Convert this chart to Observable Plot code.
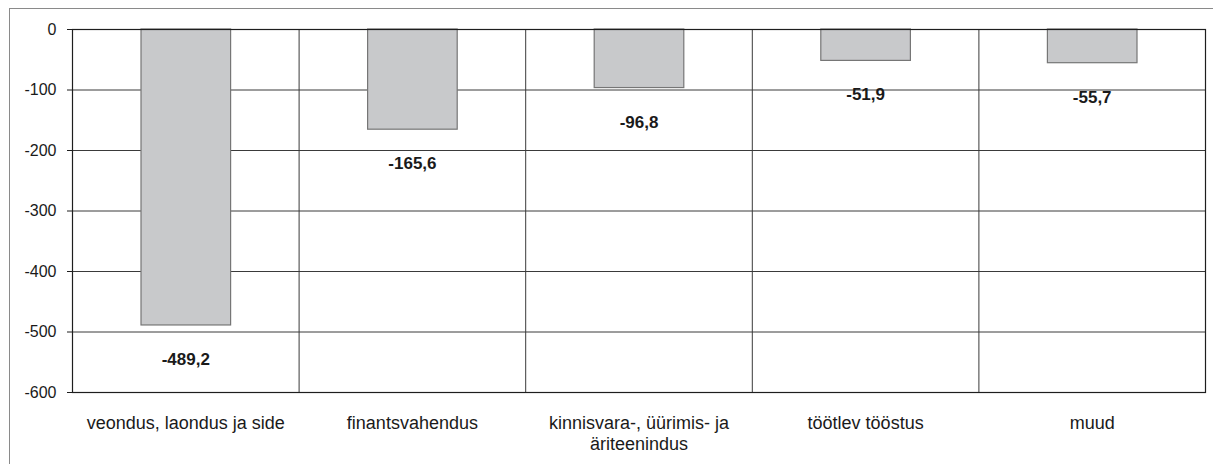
<!DOCTYPE html>
<html>
<head>
<meta charset="utf-8">
<script src="https://cdn.jsdelivr.net/npm/d3@7"></script>
<script src="https://cdn.jsdelivr.net/npm/@observablehq/plot@0.6"></script>
<style>
  html, body { margin: 0; padding: 0; background: #fff; }
  #wrap { position: relative; width: 1213px; height: 464px; overflow: hidden; }
  #border { position: absolute; left: 9px; top: 8px; width: 1220px; height: 470px;
            border-left: 1.5px solid #8a8a8a; border-top: 1.5px solid #8a8a8a;
            pointer-events: none; box-sizing: border-box; }
</style>
</head>
<body>
<div id="wrap"><div id="border"></div></div>
<script>
const categories = [
  "veondus, laondus ja side",
  "finantsvahendus",
  "kinnisvara-, üürimis- ja\näriteenindus",
  "töötlev tööstus",
  "muud"
];
const values = [-489.2, -165.6, -96.8, -51.9, -55.7];
const yTicks = [0, -100, -200, -300, -400, -500, -600];

const data = categories.map((c, i) => ({ c, i, v: values[i] }));
const fmt = v => v.toFixed(1).replace(".", ",");

const chart = Plot.plot({
  width: 1213,
  height: 464,
  marginLeft: 72,
  marginRight: 8,
  marginTop: 29,
  marginBottom: 72,
  style: { fontFamily: "'Liberation Sans', Arial, sans-serif", fontSize: "16px", color: "#1a1a1a", background: "transparent" },
  x: { domain: [0, categories.length], axis: null },
  y: { domain: [-600, 0], axis: null },
  marks: [
    Plot.ruleY(yTicks.slice(1, -1), { stroke: "#3a3a3a", strokeWidth: 1 }),
    Plot.ruleX(d3.range(1, categories.length), { stroke: "#3a3a3a", strokeWidth: 1 }),
    Plot.rectY(data, {
      x1: d => d.i, x2: d => d.i + 1, y: "v",
      insetLeft: 69, insetRight: 68,
      fill: "#c8c9cb", stroke: "#767676", strokeWidth: 1.2
    }),
    Plot.frame({ stroke: "#1e1e1e", strokeWidth: 1.2 }),
    Plot.axisY({ ticks: yTicks, tickSize: 5, tickPadding: 11, tickFormat: d => String(d), fontSize: 16, stroke: "#1e1e1e", label: null }),
    Plot.text(data, {
      x: d => d.i + 0.5, y: "v", text: d => fmt(d.v),
      dy: 34, fontWeight: "bold", fontSize: 17, fill: "#1a1a1a"
    }),
    Plot.text(data, {
      x: d => d.i + 0.5, y: () => -600, text: "c",
      lineAnchor: "top", dy: 21, fontSize: 18, lineHeight: 1.2, fill: "#1a1a1a"
    })
  ]
});
document.getElementById("wrap").insertBefore(chart, document.getElementById("border"));
</script>
</body>
</html>
